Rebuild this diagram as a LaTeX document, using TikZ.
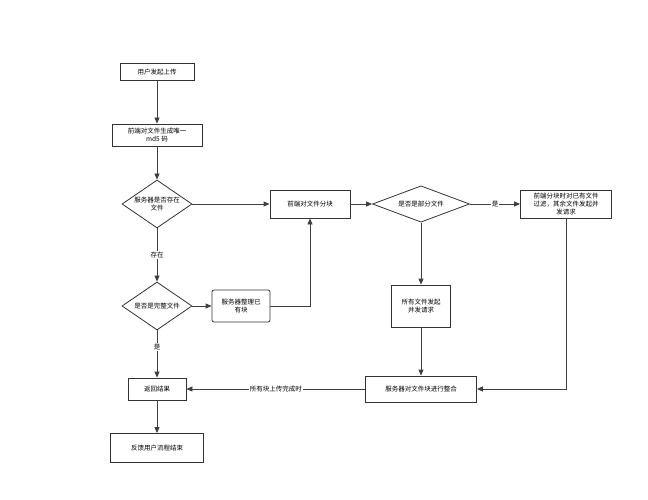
\documentclass[tikz,border=0pt]{standalone}
\usepackage{fontspec}
\setmainfont{Noto Sans CJK SC}
\usetikzlibrary{shapes.geometric,arrows.meta}
\tikzset{
  box/.style={draw=black!80,thick,align=center,font=\fontsize{6.5}{8}\selectfont,inner sep=1pt},
  dia/.style={draw=black!80,thick,diamond,aspect=1.5,align=center,font=\fontsize{6.5}{8}\selectfont,inner sep=0pt},
  line/.style={draw=black!75,thick,-{Triangle[length=6pt,width=5pt]}},
  lbl/.style={fill=white,font=\fontsize{6.5}{8}\selectfont,inner sep=1pt}
}
\begin{document}
\begin{tikzpicture}[x=1pt,y=-1pt]
    \useasboundingbox (0,0) rectangle (648,500);
    \node[box,minimum width=74pt,minimum height=17pt] (start) at (157,72) {用户发起上传};
    \node[box,minimum width=90pt,minimum height=22pt] (md) at (157,135) {前端对文件生成唯一\\md5 码};
    \node[dia,minimum width=70pt,minimum height=48pt] (exist) at (157,204) {服务器是否存在\\文件};
    \node[box,minimum width=80pt,minimum height=28pt] (split) at (310,204) {前端对文件分块};
    \node[dia,minimum width=70pt,minimum height=48pt] (whole) at (157,306) {是否是完整文件};
    \node[box,rounded corners=2pt,minimum width=58pt,minimum height=32pt] (tidy) at (241,306) {服务器整理已\\有块};
    \node[dia,minimum width=97pt,minimum height=24pt] (part) at (421,204) {是否是部分文件};
    \node[box,minimum width=91pt,minimum height=28pt] (filter) at (566,204) {前端分块时对已有文件\\过滤，其余文件发起并\\发请求};
    \node[box,minimum width=59pt,minimum height=42pt] (all) at (421,306) {所有文件发起\\并发请求};
    \node[box,minimum width=111pt,minimum height=26pt] (merge) at (421,389) {服务器对文件块进行整合};
    \node[box,minimum width=58pt,minimum height=22pt] (result) at (157,389) {返回结果};
    \node[box,minimum width=93pt,minimum height=29pt] (end) at (157,448) {反馈用户流程结束};

    \draw[line] (start)--(md);
    \draw[line] (md)--(exist);
    \draw[line] (exist)--(split);
    \draw[line] (exist)--node[lbl,pos=.5]{存在}(whole);
    \draw[line] (whole)--(tidy);
    \draw[line] (tidy.east)-|(split.south);
    \draw[line] (whole)--node[lbl,pos=.35]{是}(result);
    \draw[line] (split)--(part);
    \draw[line] (part)--node[lbl]{是}(filter);
    \draw[line] (part)--(all);
    \draw[line] (all)--(merge);
    \draw[line] (filter.south)|-(merge.east);
    \draw[line] (merge)--node[lbl]{所有块上传完成时}(result);
    \draw[line] (result)--(end);
\end{tikzpicture}
\end{document}
